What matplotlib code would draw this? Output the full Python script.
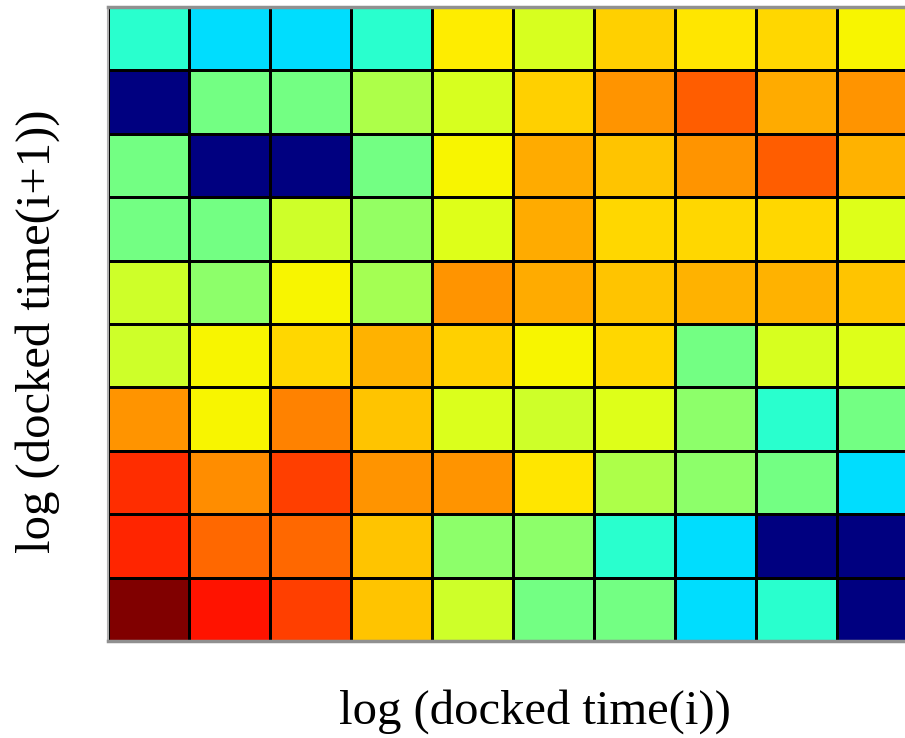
import numpy as np
import matplotlib.pyplot as plt

# transition matrix values (row 0 = top row of the picture), jet scale 0..1
values = np.array([
    [0.40, 0.34, 0.34, 0.40, 0.66, 0.61, 0.69, 0.665, 0.68, 0.65],
    [0.00, 0.49, 0.49, 0.56, 0.61, 0.69, 0.75, 0.81, 0.73, 0.75],
    [0.49, 0.00, 0.00, 0.49, 0.65, 0.73, 0.70, 0.75, 0.81, 0.72],
    [0.49, 0.49, 0.60, 0.53, 0.62, 0.73, 0.68, 0.68, 0.68, 0.62],
    [0.60, 0.52, 0.65, 0.55, 0.75, 0.73, 0.70, 0.72, 0.72, 0.70],
    [0.60, 0.65, 0.68, 0.72, 0.69, 0.65, 0.68, 0.49, 0.61, 0.62],
    [0.75, 0.65, 0.77, 0.70, 0.615, 0.60, 0.62, 0.52, 0.40, 0.49],
    [0.86, 0.76, 0.84, 0.75, 0.75, 0.665, 0.56, 0.52, 0.49, 0.34],
    [0.87, 0.80, 0.80, 0.70, 0.52, 0.52, 0.40, 0.34, 0.00, 0.00],
    [1.00, 0.89, 0.84, 0.70, 0.60, 0.49, 0.49, 0.34, 0.40, 0.00],
])
xlabel = 'log (docked time(i))'
ylabel = 'log (docked time(i+1))'

plt.rcParams['font.family'] = ['Liberation Serif', 'DejaVu Serif']

fig = plt.figure(figsize=(9.05, 7.38), dpi=100)
# the right column is cut off by the figure edge, as in the original
ax = fig.add_axes([0.119, 0.1314, 0.895, 0.859])
ax.pcolormesh(values, cmap='jet', vmin=0, vmax=1, edgecolors='black', linewidth=1.0)
ax.set_xlim(0, 10)
ax.set_ylim(10, 0)
ax.set_xticks([])
ax.set_yticks([])
for s in ax.spines.values():
    s.set_color('#909090')
    s.set_linewidth(2.5)
ax.spines['left'].set_color('#b0b0b0')
ax.spines['left'].set_linewidth(1.5)

fig.text(0.591, 0.036, xlabel, fontsize=35, ha='center', va='center')
fig.text(0.041, 0.551, ylabel, fontsize=35, ha='center', va='center', rotation=90)

fig.savefig('out.png', dpi=100)
